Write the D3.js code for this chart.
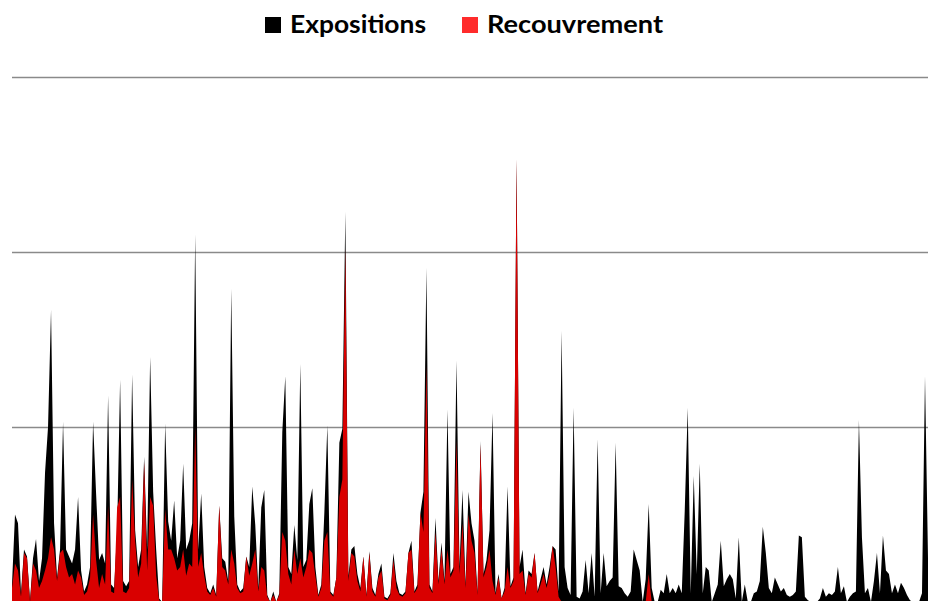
<!DOCTYPE html>
<html>
<head>
<meta charset="utf-8">
<script src="https://cdn.jsdelivr.net/npm/d3@7"></script>
<style>
  body { margin: 0; background: #fff; }
  svg { display: block; }
</style>
</head>
<body>
<div id="chart"></div>
<script>
// series names
var seriesNames = ['Expositions', 'Recouvrement'];
// grid levels (no labels shown on the original)
var gridTicks = [100, 200, 300];

// Expositions, one value per period
var expositions = [
    10, 50, 45, 5, 30, 26, 1, 25, 36, 12,
    25, 74, 100, 167, 45, 14, 30, 103, 30, 26,
    22, 30, 60, 18, 6, 10, 20, 103, 62, 24,
    28, 22, 118, 10, 8, 40, 127, 12, 9, 12,
    130, 41, 20, 30, 83, 30, 140, 63, 30, 2,
    0, 102, 46, 35, 58, 25, 35, 79, 30, 35,
    45, 210, 30, 62, 20, 8, 5, 10, 4, 55,
    25, 23, 12, 179, 49, 10, 6, 8, 26, 20,
    66, 44, 8, 54, 64, 4, 0, 6, 0, 5,
    97, 129, 20, 16, 44, 24, 136, 20, 24, 56,
    65, 20, 4, 10, 51, 101, 6, 4, 14, 91,
    99, 223, 15, 30, 32, 16, 8, 26, 4, 29,
    8, 4, 16, 22, 3, 2, 5, 28, 12, 5,
    4, 6, 28, 35, 6, 10, 51, 63, 191, 10,
    6, 48, 12, 34, 12, 110, 16, 20, 138, 20,
    64, 10, 63, 45, 35, 5, 92, 16, 24, 41,
    108, 5, 16, 2, 8, 66, 9, 14, 253, 20,
    30, 5, 18, 16, 28, 6, 13, 20, 10, 20,
    32, 30, 6, 155, 20, 8, 4, 111, 3, 2,
    6, 24, 5, 28, 3, 93, 5, 28, 9, 12,
    14, 91, 9, 8, 5, 3, 6, 30, 24, 18,
    0, 13, 56, 8, 0, 0, 7, 5, 16, 5,
    8, 5, 10, 5, 52, 111, 5, 72, 16, 79,
    5, 20, 18, 0, 5, 10, 35, 9, 13, 16,
    13, 2, 37, 0, 10, 0, 0, 5, 6, 12,
    43, 28, 8, 5, 14, 10, 6, 8, 4, 3,
    4, 6, 38, 37, 3, 1, 0, 0, 0, 2,
    8, 3, 5, 4, 6, 20, 5, 9, 0, 3,
    5, 6, 104, 37, 5, 8, 0, 12, 28, 5,
    38, 18, 16, 5, 10, 5, 11, 8, 4, 1,
    0, 0, 0, 5, 129, 25
];

// Recouvrement, same periods, stops earlier
var recouvrement = [
    8, 22, 18, 3, 28, 25, 0, 22, 18, 8,
    12, 18, 25, 37, 30, 12, 28, 30, 20, 14,
    16, 10, 18, 14, 4, 6, 14, 50, 24, 8,
    16, 10, 55, 6, 5, 54, 60, 6, 5, 8,
    70, 35, 14, 22, 80, 18, 60, 55, 15, 1,
    0, 53, 30, 30, 25, 18, 20, 30, 15, 22,
    20, 100, 20, 28, 15, 6, 4, 8, 3, 55,
    20, 18, 10, 30, 22, 8, 5, 6, 26, 15,
    22, 30, 6, 20, 18, 3, 0, 4, 0, 4,
    40, 35, 16, 10, 30, 16, 25, 14, 20, 30,
    28, 15, 3, 8, 35, 40, 5, 3, 14, 60,
    70, 202, 12, 28, 26, 12, 6, 26, 3, 28,
    6, 3, 14, 18, 2, 1, 4, 24, 8, 4,
    3, 5, 28, 30, 5, 8, 51, 40, 135, 8,
    5, 40, 10, 30, 10, 30, 14, 18, 92, 16,
    45, 8, 50, 35, 28, 4, 90, 14, 20, 30,
    12, 4, 14, 2, 6, 20, 8, 12, 253, 16,
    18, 4, 16, 14, 28, 5, 10, 16, 8, 16,
    32, 20, 3, 0, 0, 0, 0, 0, 0, 0,
    0, 0, 0, 0, 0, 0, 0, 0, 0, 0,
    0, 0, 0, 0, 0, 0, 0, 0, 0, 0,
    0, 0, 16, 0
];

var width = 928, height = 601;
var margin = {top: 77, left: 12, right: 0, bottom: 0};

var svg = d3.select('#chart')
    .append('svg')
    .attr('width', width)
    .attr('height', height);

var x = d3.scaleLinear()
    .domain([0, expositions.length - 1])
    .range([margin.left, width - margin.right]);

var y = d3.scaleLinear()
    .domain([0, 300])
    .range([602, margin.top]);

// horizontal grid
svg.append('g')
    .attr('class', 'grid')
    .selectAll('line')
    .data(gridTicks)
    .enter()
    .append('line')
    .attr('x1', margin.left)
    .attr('x2', width)
    .attr('y1', function (d) { return Math.round(y(d)) + 0.5; })
    .attr('y2', function (d) { return Math.round(y(d)) + 0.5; })
    .attr('stroke', '#8a8a8a')
    .attr('stroke-width', 1.6);

var area = d3.area()
    .x(function (d, i) { return x(i); })
    .y0(y(0))
    .y1(function (d) { return y(d); });

svg.append('path')
    .datum(expositions)
    .attr('d', area)
    .attr('fill', '#000000');

svg.append('path')
    .datum(recouvrement)
    .attr('d', area)
    .attr('fill', '#d90000');

// legend
var legendColors = ['#000000', '#ff2b2b'];
var legendX = [265, 462];
var legendTextW = [136, 176];
var legend = svg.append('g').attr('class', 'legend');
var items = legend.selectAll('g')
    .data(seriesNames)
    .enter()
    .append('g')
    .attr('transform', function (d, i) { return 'translate(' + legendX[i] + ',0)'; });
items.append('rect')
    .attr('x', 0)
    .attr('y', 17)
    .attr('width', 16)
    .attr('height', 16)
    .attr('fill', function (d, i) { return legendColors[i]; });
items.append('text')
    .attr('x', 25)
    .attr('y', 33)
    .attr('textLength', function (d, i) { return legendTextW[i]; })
    .attr('lengthAdjust', 'spacingAndGlyphs')
    .style('font-family', 'Lato, "Liberation Sans", sans-serif')
    .style('font-weight', 'bold')
    .style('font-size', '24px')
    .attr('fill', '#000')
    .text(function (d) { return d; });
</script>
</body>
</html>
